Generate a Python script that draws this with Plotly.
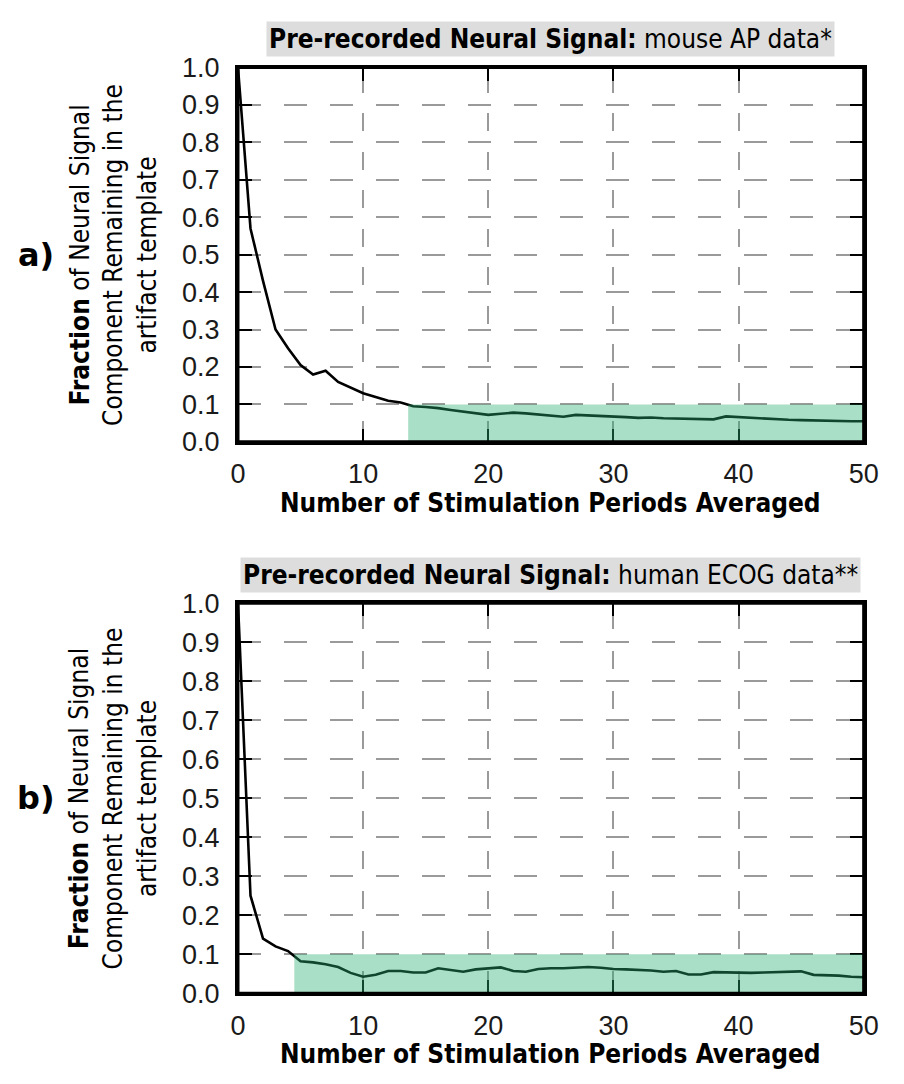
import plotly.graph_objects as go

# ---------------- data ----------------
periods = list(range(51))

frac_mouse_ap = [1.0, 0.57, 0.43, 0.30, 0.25, 0.205, 0.18, 0.19, 0.16, 0.145,
                 0.13, 0.12, 0.11, 0.105, 0.095, 0.093, 0.09, 0.085, 0.08, 0.075,
                 0.072, 0.075, 0.078, 0.076, 0.073, 0.07, 0.067, 0.072, 0.071, 0.07,
                 0.068, 0.066, 0.064, 0.065, 0.063, 0.062, 0.062, 0.061, 0.06, 0.068,
                 0.066, 0.064, 0.062, 0.06, 0.059, 0.058, 0.057, 0.056, 0.056, 0.055,
                 0.055]

frac_human_ecog = [1.0, 0.25, 0.14, 0.12, 0.108, 0.082, 0.079, 0.074, 0.067, 0.052,
                   0.042, 0.047, 0.057, 0.057, 0.053, 0.053, 0.064, 0.06, 0.055, 0.061,
                   0.063, 0.066, 0.057, 0.055, 0.062, 0.064, 0.064, 0.065, 0.067, 0.065,
                   0.062, 0.061, 0.06, 0.058, 0.055, 0.057, 0.048, 0.048, 0.054, 0.053,
                   0.052, 0.052, 0.053, 0.054, 0.055, 0.056, 0.047, 0.046, 0.045, 0.042,
                   0.041]

threshold = 0.1
shade_start_a = 13.6
shade_start_b = 4.5
x_tick_vals = [0, 10, 20, 30, 40, 50]
y_tick_vals = [0.0, 0.1, 0.2, 0.3, 0.4, 0.5, 0.6, 0.7, 0.8, 0.9, 1.0]

title_a = "<b>Pre-recorded Neural Signal:</b> mouse AP data*"
title_b = "<b>Pre-recorded Neural Signal:</b> human ECOG data**"
x_title = "<b>Number of Stimulation Periods Averaged</b>"
y_title = "<b>Fraction</b> of Neural Signal<br>Component Remaining in the<br>artifact template"

# ---------------- layout geometry ----------------
W, H = 904, 1084
px_l, px_r = 236, 878
a_top, a_bot = 54, 439
b_top, b_bot = 605, 1006

def fx(p):
    return p / W

def fy(p):
    return 1 - p / H

COND = "DejaVu Sans Condensed, DejaVu Sans, sans-serif"
TICKFONT = dict(family="Liberation Sans, Arial, sans-serif", size=27, color="#1a1a1a")

fig = go.Figure()
fig.add_trace(go.Scatter(x=periods, y=frac_mouse_ap, mode="lines",
                         line=dict(color="black", width=2.6),
                         xaxis="x", yaxis="y", showlegend=False, hoverinfo="skip"))
fig.add_trace(go.Scatter(x=periods, y=frac_human_ecog, mode="lines",
                         line=dict(color="black", width=2.6),
                         xaxis="x2", yaxis="y2", showlegend=False, hoverinfo="skip"))

def xaxis_cfg(dom_anchor, griddash):
    return dict(domain=[fx(px_l), fx(px_r)], anchor=dom_anchor, range=[0, 50],
                tickvals=x_tick_vals, ticks="inside", ticklen=13, tickwidth=2,
                tickcolor="black", mirror="ticks", showline=True, linewidth=3,
                linecolor="black", showgrid=True, gridcolor="#9a9a9a", gridwidth=1.6,
                griddash=griddash, zeroline=False, tickfont=TICKFONT,
                ticklabelstandoff=6, fixedrange=True)

def yaxis_cfg(dom, dom_anchor):
    return dict(domain=dom, anchor=dom_anchor, range=[0, 1],
                tickvals=y_tick_vals, tickformat=".1f", ticks="inside", ticklen=14,
                tickwidth=2, tickcolor="black", mirror="ticks", showline=True,
                linewidth=3, linecolor="black", showgrid=True, gridcolor="#9a9a9a",
                gridwidth=1.6, griddash="23px,23px", zeroline=False, tickfont=TICKFONT,
                ticklabelstandoff=10, fixedrange=True)

fig.update_layout(
    width=W, height=H, margin=dict(l=0, r=0, t=0, b=0),
    paper_bgcolor="white", plot_bgcolor="white",
    xaxis=xaxis_cfg("y", "0px,7px,18px,13.5px"),
    yaxis=yaxis_cfg([fy(a_bot), fy(a_top)], "x"),
    xaxis2=xaxis_cfg("y2", "0px,8px,18px,14px"),
    yaxis2=yaxis_cfg([fy(b_bot), fy(b_top)], "x2"),
)

green = "rgba(40,175,112,0.4)"
shapes = []
for xr, yr, x0 in [("x", "y", shade_start_a), ("x2", "y2", shade_start_b)]:
    shapes.append(dict(type="rect", xref=xr, yref=yr, x0=x0, x1=50, y0=0, y1=threshold,
                       fillcolor=green, line=dict(width=0), layer="above"))
    shapes.append(dict(type="rect", xref=xr + " domain", yref=yr + " domain",
                       x0=0, x1=1, y0=0, y1=1, fillcolor="rgba(0,0,0,0)",
                       line=dict(color="black", width=3), layer="above"))
fig.update_layout(shapes=shapes)

ann = []
cx = fx((px_l + px_r) / 2)
for title, top, bot, lab in [(title_a, a_top, a_bot, "a)"), (title_b, b_top, b_bot, "b)")]:
    mid = (top + bot) / 2
    ann.append(dict(text=title, xref="paper", yref="paper", x=cx, y=fy(top - 29),
                    xanchor="center", yanchor="middle", showarrow=False,
                    bgcolor="#dddddd", borderpad=2,
                    font=dict(family=COND, size=26, color="black")))
    ann.append(dict(text=x_title, xref="paper", yref="paper", x=cx, y=fy(bot + 63),
                    xanchor="center", yanchor="middle", showarrow=False,
                    font=dict(family=COND, size=26, color="black")))
    ann.append(dict(text=y_title, xref="paper", yref="paper", x=fx(108), y=fy(mid),
                    xanchor="center", yanchor="middle", showarrow=False, textangle=-90,
                    font=dict(family=COND, size=26, color="black")))
    ann.append(dict(text="<b>" + lab + "</b>", xref="paper", yref="paper", x=fx(29),
                    y=fy(mid), xanchor="center", yanchor="middle", showarrow=False,
                    font=dict(family="DejaVu Sans, sans-serif", size=32, color="black")))
fig.update_layout(annotations=ann)

fig.write_html("out.html")
